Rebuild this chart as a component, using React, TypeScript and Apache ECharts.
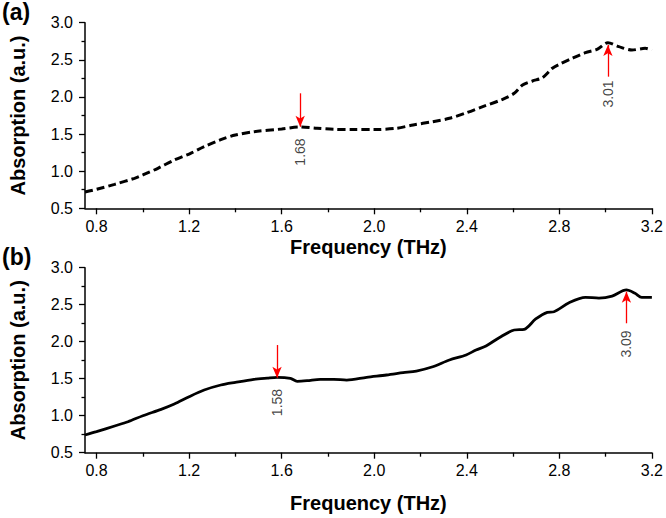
import React, { useEffect, useRef } from "react";
import * as echarts from "echarts";

// ---- data ----
const freqA = [0.75, 0.8, 0.878, 0.964, 1.0, 1.065, 1.136, 1.2, 1.265, 1.337, 1.4, 1.48, 1.6, 1.68, 1.753, 1.825, 1.909, 2.0, 2.096, 2.168, 2.253, 2.325, 2.4, 2.469, 2.555, 2.605, 2.641, 2.684, 2.727, 2.77, 2.8, 2.856, 2.913, 2.963, 3.01, 3.057, 3.114, 3.171, 3.2];
const absA = [0.72, 0.756, 0.823, 0.904, 0.949, 1.039, 1.151, 1.231, 1.33, 1.425, 1.487, 1.532, 1.568, 1.595, 1.578, 1.564, 1.56, 1.56, 1.578, 1.622, 1.667, 1.712, 1.788, 1.869, 1.968, 2.049, 2.161, 2.215, 2.26, 2.386, 2.44, 2.52, 2.596, 2.641, 2.73, 2.677, 2.632, 2.655, 2.63];

const freqB = [0.75, 0.8, 0.878, 0.936, 1.0, 1.079, 1.136, 1.2, 1.265, 1.337, 1.4, 1.48, 1.538, 1.58, 1.638, 1.667, 1.71, 1.767, 1.825, 1.881, 1.967, 2.053, 2.125, 2.182, 2.253, 2.325, 2.397, 2.44, 2.483, 2.54, 2.605, 2.648, 2.698, 2.748, 2.777, 2.842, 2.913, 2.971, 3.028, 3.09, 3.127, 3.156, 3.2];
const absB = [0.739, 0.784, 0.861, 0.919, 1.0, 1.086, 1.158, 1.257, 1.347, 1.415, 1.451, 1.492, 1.509, 1.519, 1.505, 1.465, 1.473, 1.492, 1.492, 1.482, 1.519, 1.55, 1.581, 1.604, 1.662, 1.753, 1.82, 1.888, 1.942, 2.054, 2.158, 2.167, 2.307, 2.397, 2.405, 2.527, 2.6, 2.59, 2.617, 2.699, 2.654, 2.6, 2.6];

const xMajorTicks = [0.8, 1.2, 1.6, 2.0, 2.4, 2.8, 3.2];
const xMinorTicks = [1.0, 1.4, 1.8, 2.2, 2.6, 3.0];

// annotations: [freq, arrowFrom, arrowTo, labelCenter]
const annotA = [
  [1.68, 2.049, 1.599, 1.258],
  [3.01, 2.273, 2.70, 2.04],
];
const annotB = [
  [1.58, 1.955, 1.514, 1.178],
  [3.09, 2.249, 2.676, 1.969],
];

const FONT = "'Liberation Sans', Arial, sans-serif";

export default function App() {
  const ref = useRef<HTMLDivElement>(null);
  useEffect(() => {
    document.body.style.margin = "0";
    const chart = echarts.init(ref.current!, null, { renderer: "svg" });

    const grids = [
      { left: 83.5, top: 22.7, width: 569.5, height: 185.6 },
      { left: 83.5, top: 267.7, width: 569.5, height: 185 },
    ];
    const nameGaps = [29, 40];

    const xAxes: any[] = [];
    const yAxes: any[] = [];
    grids.forEach((g, i) => {
      xAxes.push({
        type: "value",
        gridIndex: i,
        position: "bottom",
        min: 0.75,
        max: 3.2,
        name: "Frequency (THz)",
        nameLocation: "middle",
        nameGap: nameGaps[i],
        nameTextStyle: { fontFamily: FONT, fontSize: 20, fontWeight: "bold", color: "#000" },
        axisLine: { show: true, lineStyle: { color: "#000", width: 1.5 } },
        axisTick: { show: true, inside: false, length: 6, customValues: xMajorTicks, lineStyle: { color: "#000", width: 1.3 } },
        axisLabel: {
          show: true,
          customValues: xMajorTicks,
          margin: 10,
          fontFamily: FONT,
          fontSize: 16,
          color: "#000",
          formatter: (v: number) => v.toFixed(1),
        },
        splitLine: { show: false },
      });
      xAxes.push({
        type: "value",
        gridIndex: i,
        position: "bottom",
        min: 0.75,
        max: 3.2,
        axisLine: { show: false },
        axisTick: { show: true, inside: false, length: 4, customValues: xMinorTicks, lineStyle: { color: "#000", width: 1.3 } },
        axisLabel: { show: false },
        splitLine: { show: false },
      });
      yAxes.push({
        type: "value",
        gridIndex: i,
        min: 0.5,
        max: 3.0,
        interval: 0.5,
        name: "Absorption (a.u.)",
        nameLocation: "middle",
        nameRotate: 90,
        nameGap: 57,
        nameTextStyle: { fontFamily: FONT, fontSize: 20, fontWeight: "bold", color: "#000" },
        axisLine: { show: true, lineStyle: { color: "#000", width: 1.5 } },
        axisTick: { show: true, inside: false, length: 6, lineStyle: { color: "#000", width: 1.3 } },
        minorTick: { show: true, splitNumber: 2, length: 3.5, lineStyle: { color: "#000", width: 1.3 } },
        axisLabel: {
          margin: 12,
          fontFamily: FONT,
          fontSize: 16,
          color: "#000",
          formatter: (v: number) => v.toFixed(1),
        },
        splitLine: { show: false },
        minorSplitLine: { show: false },
      });
    });

    const arrowMark = (ann: number[][]) => ({
      silent: true,
      symbol: ["none", "arrow"],
      symbolSize: [7, 11],
      label: { show: false },
      lineStyle: { color: "#ff0000", width: 1.3, type: "solid" },
      data: ann.map((a) => [{ coord: [a[0], a[1]] }, { coord: [a[0], a[2]] }]),
    });

    const labelSeries = (ann: number[][], xi: number, yi: number) => ({
      type: "scatter",
      xAxisIndex: xi,
      yAxisIndex: yi,
      symbolSize: 0,
      silent: true,
      data: ann.map((a) => [a[0], a[3]]),
      label: {
        show: true,
        position: "inside",
        rotate: 90,
        fontFamily: FONT,
        fontSize: 14,
        color: "#111",
        formatter: (p: any) => p.value[0].toFixed(2),
      },
    });

    chart.setOption({
      animation: false,
      backgroundColor: "#fff",
      grid: grids,
      xAxis: xAxes,
      yAxis: yAxes,
      graphic: [
        { type: "text", left: 2, top: 0, style: { text: "(a)", fontFamily: FONT, fontSize: 23, fontWeight: "bold", fill: "#000" } },
        { type: "text", left: 2, top: 245, style: { text: "(b)", fontFamily: FONT, fontSize: 23, fontWeight: "bold", fill: "#000" } },
      ],
      series: [
        {
          type: "line",
          xAxisIndex: 0,
          yAxisIndex: 0,
          data: freqA.map((f, i) => [f, absA[i]]),
          smooth: 0.3,
          showSymbol: false,
          lineStyle: { color: "#000", width: 3, type: [8, 4] },
          markLine: arrowMark(annotA),
        },
        labelSeries(annotA, 0, 0),
        {
          type: "line",
          xAxisIndex: 2,
          yAxisIndex: 1,
          data: freqB.map((f, i) => [f, absB[i]]),
          smooth: 0.3,
          showSymbol: false,
          lineStyle: { color: "#000", width: 2.8, type: "solid" },
          markLine: arrowMark(annotB),
        },
        labelSeries(annotB, 2, 1),
      ],
    });
    return () => chart.dispose();
  }, []);
  return <div ref={ref} style={{ width: 666, height: 518 }} />;
}
